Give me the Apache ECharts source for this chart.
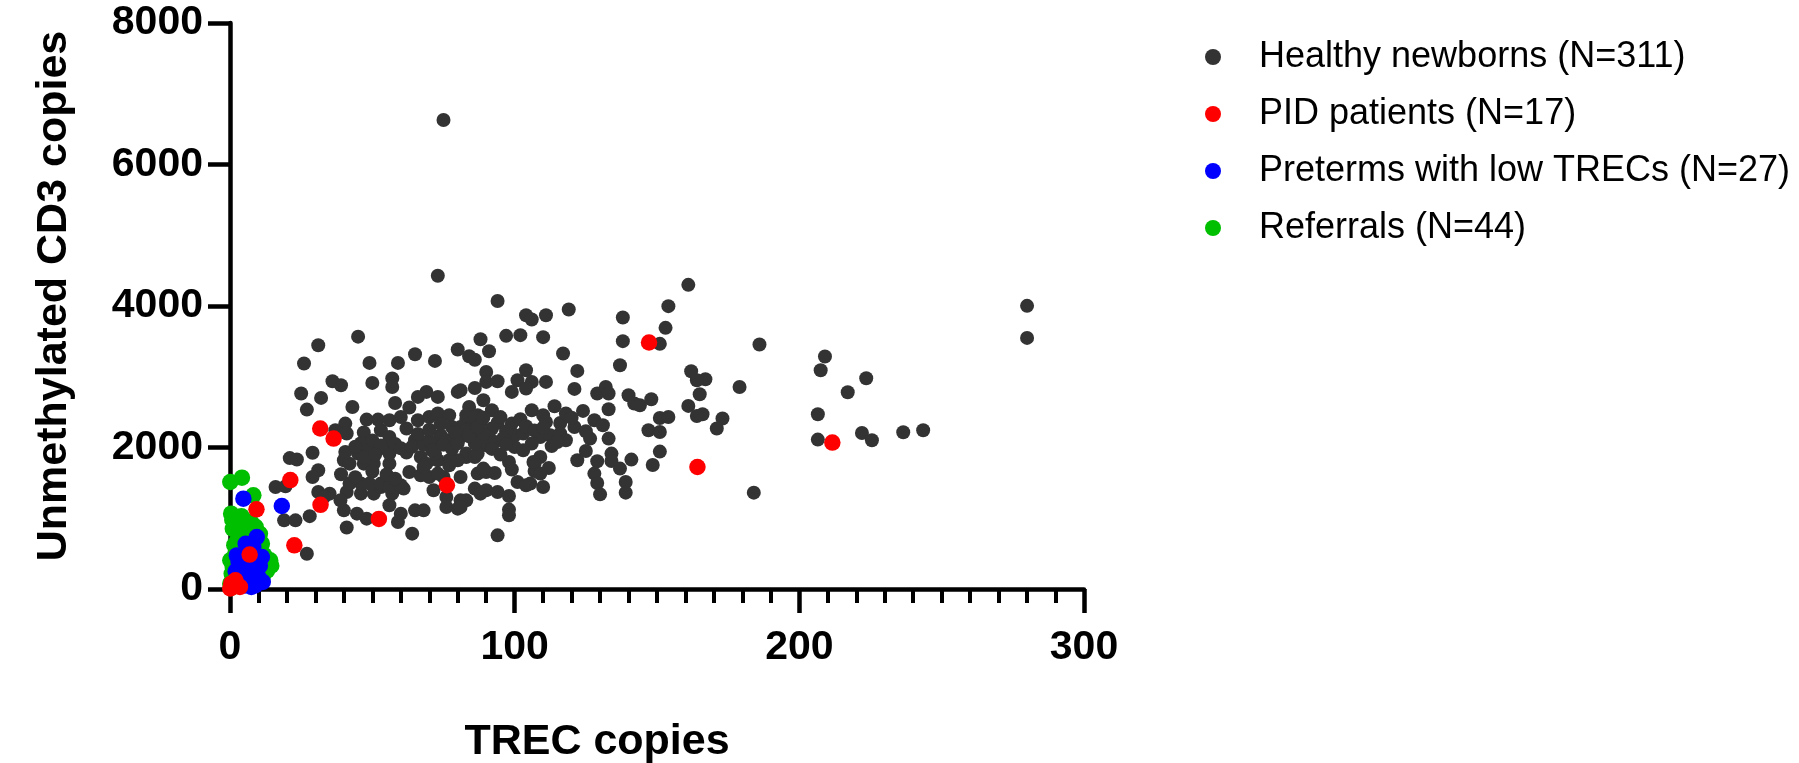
<!DOCTYPE html>
<html>
<head>
<meta charset="utf-8">
<script src="https://cdn.jsdelivr.net/npm/echarts@6/dist/echarts.min.js"></script>
<style>
html,body{margin:0;padding:0;background:#fff;}
#chart{width:1799px;height:763px;}
</style>
</head>
<body>
<div id="chart"></div>
<script>
// ---- Data (TREC copies, Unmethylated CD3 copies) ----
const seriesNames = ['Healthy newborns (N=311)', 'PID patients (N=17)', 'Preterms with low TRECs (N=27)', 'Referrals (N=44)'];
const xTicks = [0, 100, 200, 300];
const yTicks = [0, 2000, 4000, 6000, 8000];

const healthyNewborns = [
[16,1441],[19.5,1451],[19,970],[23,970],[28,1030],[27,499],[21,1850],[23.5,1830],[25,2763],[27,2536],
[26,3187],[31,3446],[29,1925],[31,1678],[29,1583],[36,2937],[39,2880],[32,2701],[31,1371],[35,1348],
[33,1300],[41,1371],[46,1348],[50.5,1348],[53,1441],[57,1348],[61,1419],[39,1621],[42,1490],[46,1490],
[49,1490],[53,1490],[56,1441],[60,1466],[63,1654],[67,1607],[70,1583],[71.5,1395],[75,1583],[40,1819],
[42,1772],[47,1772],[50.5,1772],[56,1772],[67,1866],[69,1772],[73,1819],[77,1819],[83,1866],[40.5,1937],
[45,1914],[49,1985],[54.6,1985],[56,1914],[40.5,2338],[37,2244],[41,2197],[47,2211],[53,2244],[62,2268],
[66,2385],[70,2432],[73,2480],[77,2456],[83,2385],[56,2149],[65,2102],[74,2173],[79,2149],[82,2197],
[48,2394],[52,2394],[56,2385],[60,2432],[43,2573],[58,2630],[63,2565],[66,2715],[69,2786],[73,2715],
[80,2786],[50,2913],[57,2975],[57,2856],[45,3567],[49,3196],[59,3196],[65,3319],[72,3224],[80,3385],
[40,1112],[44.6,1065],[48,994],[56,1183],[60,1065],[65,1112],[68,1112],[41,870],[59,946],[64,782],
[38.8,1253],[76,1300],[81,1253],[76,1159],[80,1136],[94,4070],[104,3870],[106,3810],[111,3870],[119,3951],
[138,3838],[138,3503],[137,3163],[88,3531],[97,3578],[102,3588],[110,3560],[91,3361],[84,3290],[86,3240],
[117,3329],[122,3083],[121,2828],[90,3068],[90,2927],[94,2937],[104,3092],[101,2951],[106,2927],[99,2786],
[104,2834],[111,2927],[86,2842],[81,2810],[129,2763],[132,2856],[133,2763],[140,2739],[142,2621],[84,2573],
[89,2668],[92,2526],[87,2456],[106,2526],[110,2456],[114,2583],[111,2361],[124,2517],[133,2541],[128,2385],
[131,2314],[116,2347],[121,2290],[99,2338],[81,2290],[84,2244],[88,2361],[92,2268],[100,2173],[103,2197],
[109,2149],[112.5,2173],[116,2197],[118,2102],[115,2078],[106,2055],[100,2007],[103,1961],[126.5,2126],[133,2126],
[81,2149],[86,2102],[90,2031],[91,2149],[122,1819],[129,1805],[134,1914],[134,1809],[141,1829],[137,1702],
[128,1631],[129,1498],[130,1338],[139,1512],[139,1362],[109,1866],[107,1772],[112,1710],[107,1668],[98,1795],
[99,1688],[101,1512],[104,1466],[83,1914],[86,1866],[87,1914],[81,1583],[87,1631],[90,1654],[93,1640],
[86,1419],[90,1395],[94,1371],[98,1314],[83,1253],[81,1159],[98,1122],[98,1041],[94,758],[83,2456],
[86,2432],[83,2244],[86,2055],[72,2007],[72,1914],[76,2102],[68,1724],[73,1631],[77,1749],[80,1819],
[89,1702],[106.6,1795],[109,1631],[105.5,1490],[110,1441],[88,1348],[84.4,2220],[89,2197],[93,2078],[161,4299],
[154,3998],[153,3691],[151,3465],[186,3456],[209,3286],[207.5,3092],[223.5,2979],[217,2781],[179,2856],[167,2965],
[165,2753],[166,2470],[173,2409],[171,2268],[206.5,2470],[206.5,2112],[222,2206],[225.5,2102],[236.5,2215],[243.5,2244],
[184,1362],[162,3078],[164,2951],[161,2588],[164,2446],[144,2597],[148,2682],[151,2418],[154,2432],[147,2244],
[151,2220],[151,1942],[148.5,1753],[280,4002],[280,3549],[75,6630],[73,4427],
[46,2060],[50,2100],[53,2030],[47,1860],[51,1900],[44,2010],[58,2050],[60,1990],[62,1930],[64,2010],
[68,2040],[70,2100],[71,1960],[75,2040],[78,1980],[80,2060],[66,2190],[70,2250],[74,2330],[78,2290],
[79,2220],[84,2160],[87,2290],[89,2420],[94,2350],[95,2430],[97,2230],[96,2130],[92,1980],[95,1900],
[97,2050],[102,2400],[104,2300],[107,2240],[110,2280],[113,2020],[118,2480],[120,2420],[125,2230],[125,1950],
[55,1620],[58,1560],[50,1660],[44,1580]
];

const pidPatients = [
[147.2,3484],[164.2,1724],[211.6,2070],[31.7,2268],[36.4,2126],[76.2,1466],[31.8,1190],[52.3,990],
[22.6,617],[21.2,1540],[9.3,1126],[6.9,487],[0.4,75],[1.9,122],[0.1,8],[2.5,55],[3.5,30]
];

const pretermsLowTrec = [
[4.7,1277],[18.2,1173],[9.4,734],[8.2,593],[6.5,452],[2.4,475],[4.7,310],[7.7,310],[8.8,216],[10,169],
[7.1,122],[5.3,51],[8.8,51],[11.2,452],[3.6,216],[5.5,640],[7,400],[10.5,330],[6.2,180],[4,140],
[8,260],[11.5,100],[3,380],[9.8,420],[5.8,520],[7.5,30],[2,250]
];

const referrals = [
[0.1,1512],[4.2,1574],[0.4,1065],[8.2,1324],[4.7,900],[5.9,829],[3.6,734],[7.1,734],[0.1,405],[0.6,216],
[0.1,75],[14.1,405],[13.5,310],[11.2,641],[10.6,546],[7.7,452],[3,310],[5.3,970],[1,300],[2,520],
[1.5,620],[4,1030],[6,650],[9,880],[12,480],[11,230],[2.5,150],[0.5,20],[6.5,700],[8.5,600],
[12.5,360],[3.5,420],[9.5,150],[13,260],[1,850],[4.5,580],[10.5,780],[7.5,940],[2.5,680],[14.5,330],
[0.8,980],[5,250],[11.5,180],[3,60]
];

const colors = {healthy:'#333333', pid:'#ff0000', preterm:'#0000ff', referral:'#00bf00'};
const FONT = '"Liberation Sans", Arial, Helvetica, sans-serif';

const chart = echarts.init(document.getElementById('chart'), null, {renderer:'canvas'});

function scatter(name, data, color, size, z) {
  return {
    name: name, type: 'scatter', data: data,
    symbol: 'circle', symbolSize: size, z: z,
    itemStyle: {color: color, opacity: 1},
    emphasis: {disabled: true}
  };
}

const option = {
  animation: false,
  backgroundColor: '#ffffff',
  grid: {left: 230, right: 715, top: 23, bottom: 174, containLabel: false, outerBoundsMode: 'none'},
  legend: {
    data: seriesNames.map(n => ({name: n, icon: 'circle'})),
    orient: 'vertical',
    left: 1200, top: 32,
    itemWidth: 82, itemHeight: 16,
    itemGap: 17,
    selectedMode: false,
    textStyle: {fontFamily: FONT, fontSize: 36, color: '#000', lineHeight: 40}
  },
  xAxis: {
    type: 'value',
    min: xTicks[0], max: xTicks[xTicks.length - 1], interval: 100,
    name: 'TREC copies',
    nameLocation: 'middle',
    nameGap: 132,
    nameTextStyle: {fontFamily: FONT, fontWeight: 'bold', fontSize: 43, color: '#000', padding: [0, 120, 0, 0]},
    splitLine: {show: false},
    axisLine: {show: true, onZero: false, lineStyle: {color: '#000', width: 4.5}},
    axisTick: {show: true, length: 24, lineStyle: {color: '#000', width: 4.5}},
    minorTick: {show: true, splitNumber: 10, length: 14, lineStyle: {color: '#000', width: 4}},
    axisLabel: {margin: 38, fontFamily: FONT, fontWeight: 'bold', fontSize: 41, color: '#000',
      formatter: v => String(v)}
  },
  yAxis: {
    type: 'value',
    min: yTicks[0], max: yTicks[yTicks.length - 1], interval: 2000,
    name: 'Unmethylated CD3 copies',
    nameLocation: 'middle',
    nameRotate: 90,
    nameGap: 154,
    nameTextStyle: {fontFamily: FONT, fontWeight: 'bold', fontSize: 43, color: '#000', padding: [0, 0, 0, 20]},
    splitLine: {show: false},
    axisLine: {show: true, onZero: false, lineStyle: {color: '#000', width: 4.5}},
    axisTick: {show: true, length: 22, lineStyle: {color: '#000', width: 4.5}},
    axisLabel: {margin: 27, fontFamily: FONT, fontWeight: 'bold', fontSize: 41, color: '#000',
      formatter: v => String(v)}
  },
  series: [
    scatter(seriesNames[0], healthyNewborns, colors.healthy, 14, 2),
    scatter(seriesNames[3], referrals, colors.referral, 16.5, 3),
    scatter(seriesNames[2], pretermsLowTrec, colors.preterm, 16.5, 4),
    scatter(seriesNames[1], pidPatients, colors.pid, 16.5, 5)
  ]
};
chart.setOption(option);
</script>
</body>
</html>
